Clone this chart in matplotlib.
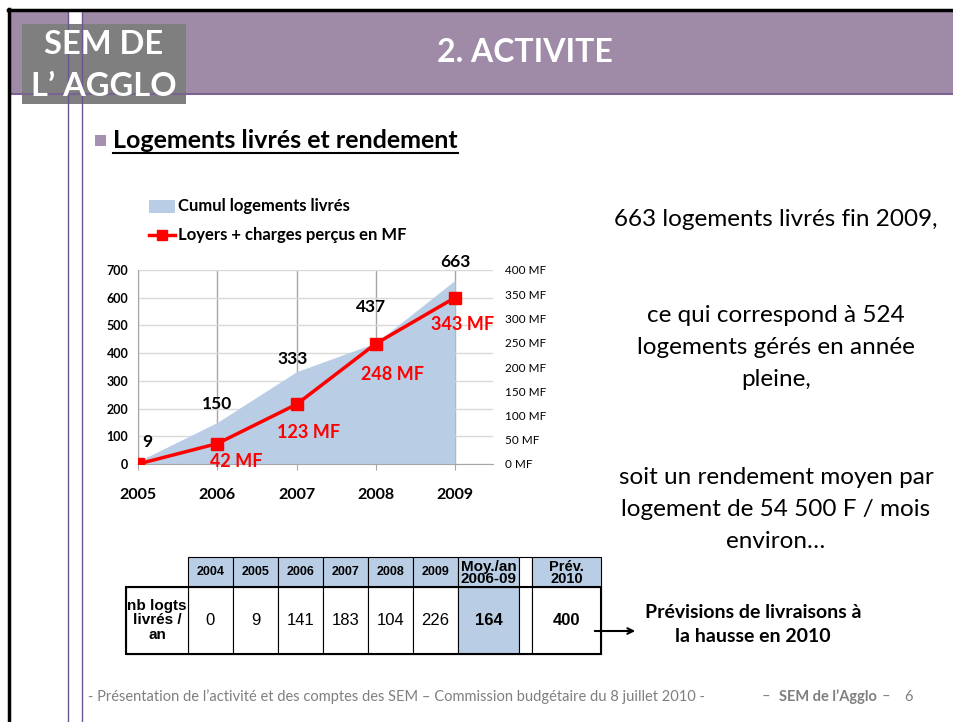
import matplotlib
matplotlib.use("Agg")
import matplotlib.pyplot as plt
from matplotlib.patches import Rectangle
from matplotlib.lines import Line2D

# données du graphique
years = [2005, 2006, 2007, 2008, 2009]
cumul_logements = [9, 150, 333, 437, 663]
loyers_mf = [0, 42, 123, 248, 343]
left_ticks = [0, 100, 200, 300, 400, 500, 600, 700]
right_ticks = [0, 50, 100, 150, 200, 250, 300, 350, 400]

# données du tableau
table_years = ["2004", "2005", "2006", "2007", "2008", "2009"]
table_values = [0, 9, 141, 183, 104, 226]
moy_label = "Moy./an\n2006-09"
moy_value = 164
prev_label = "Prév.\n2010"
prev_value = 400

W, H = 954, 722
FONT = "Lato"
PURPLE = "#9F8AA8"
BLUE = "#B9CDE5"
RED = "#FF0000"

plt.rcParams["font.family"] = [FONT, "DejaVu Sans"]

fig = plt.figure(figsize=(W / 100, H / 100), dpi=100)
bg = fig.add_axes([0, 0, 1, 1], zorder=0)
bg.set_xlim(0, W)
bg.set_ylim(H, 0)
bg.axis("off")

# cadre et bandeau
bg.add_patch(Rectangle((10, 12), W - 10, 82, color=PURPLE, lw=0))
bg.plot([10, W], [93.5, 93.5], color="#7A6390", lw=1.5)
bg.add_patch(Rectangle((68, 12), 14, 82, color="white", lw=0))
for x in (68, 82):
    bg.plot([x, x], [12, H], color="#6A5590", lw=1)
bg.plot([8, W], [10, 10], color="black", lw=2.5)
bg.plot([9, 9], [9, H], color="black", lw=2.5)
bg.add_patch(Rectangle((22, 24), 164, 80, color="#7F7F7F", lw=0))
bg.text(104, 45, "SEM DE", color="white", fontsize=23.5, fontweight="bold",
        ha="center", va="center")
bg.text(104, 86, "L\u2019 AGGLO", color="white", fontsize=23.5, fontweight="bold",
        ha="center", va="center")
bg.text(525, 53, "2. ACTIVITE", color="white", fontsize=23, fontweight="bold",
        ha="center", va="center")

# sous-titre
bg.add_patch(Rectangle((95, 135), 11, 11, color="#A590B0", lw=0))
bg.text(113, 141, "Logements livrés et rendement", fontsize=18,
        fontweight="bold", ha="left", va="center")
bg.plot([113, 458], [153, 153], color="black", lw=1.5)

# légende
bg.add_patch(Rectangle((149, 200), 26, 13, color=BLUE, lw=0))
bg.text(178, 206, "Cumul logements livrés", fontsize=12, fontweight="bold",
        ha="left", va="center")
bg.add_line(Line2D([149, 162, 175], [235, 235, 235], color=RED, lw=2.5,
                   marker="s", markersize=7, markevery=[1]))
bg.text(178, 235, "Loyers + charges perçus en MF", fontsize=12,
        fontweight="bold", ha="left", va="center")

# graphique
x0, x1, ytop, ybot = 138, 493, 270, 464
px_per_year = (455 - 138) / 4
ax = fig.add_axes([x0 / W, 1 - ybot / H, (x1 - x0) / W, (ybot - ytop) / H],
                  zorder=1)
ax.patch.set_alpha(0)
ax.fill_between(years, 0, cumul_logements, color=BLUE, lw=0, zorder=1)
ax.set_xlim(2005, 2005 + (x1 - x0) / px_per_year)
ax.set_ylim(0, 700)
ax.set_yticks(left_ticks)
ax.set_yticklabels([str(v) for v in left_ticks], fontsize=9, fontweight="bold")
ax.set_xticks(years)
ax.set_xticklabels([str(y) for y in years], fontsize=11.5, fontweight="bold")
ax.tick_params(axis="y", length=0, pad=7)
ax.tick_params(axis="x", length=4, color="#A6A6A6", pad=13)
for s in ("top", "right"):
    ax.spines[s].set_visible(False)
ax.spines["left"].set_color("#A6A6A6")
ax.spines["bottom"].set_color("#A6A6A6")
ax.set_axisbelow(True)
ax.grid(axis="y", color="#D9D9D9", lw=1)
ax.grid(axis="x", color="#A6A6A6", lw=1)

ax2 = ax.twinx()
ax2.set_ylim(0, 400)
ax2.set_yticks(right_ticks)
ax2.set_yticklabels([f"{v} MF" for v in right_ticks], fontsize=8.5)
ax2.tick_params(axis="y", length=0, pad=9)
for s in ax2.spines.values():
    s.set_visible(False)
ax2.plot(years, loyers_mf, color=RED, lw=2.5, marker="s", markersize=8,
         zorder=3)

cumul_offsets = [(9, 20), (0, 18), (-4, 13), (-5, 36), (0, 18)]
for x, v, (dx, dy) in zip(years, cumul_logements, cumul_offsets):
    ax.annotate(str(v), (x, v), xytext=(dx, dy), textcoords="offset pixels",
                ha="center", va="center", fontsize=12.5, fontweight="bold")
loyer_offsets = [None, (19, -18), (12, -28), (17, -31), (8, -27)]
for x, v, off in zip(years, loyers_mf, loyer_offsets):
    if off is None:
        continue
    ax2.annotate(f"{v} MF", (x, v), xytext=off, textcoords="offset pixels",
                 ha="center", va="center", fontsize=13, fontweight="bold",
                 color=RED, zorder=4)

# texte de droite
right_lines = [
    (220, "663 logements livrés fin 2009,"),
    (316, "ce qui correspond à 524"),
    (348, "logements gérés en année"),
    (380, "pleine,"),
    (477, "soit un rendement moyen par"),
    (509, "logement de 54 500 F / mois"),
    (541, "environ\u2026"),
]
for y, t in right_lines:
    bg.text(776, y, t, fontsize=17.5, ha="center", va="center")

# tableau
TF = ["Liberation Sans", "DejaVu Sans"]
hy0, hy1, dy1 = 557, 587, 654
col_w = 45
cx = 188
for lab, val in zip(table_years, table_values):
    bg.add_patch(Rectangle((cx, hy0), col_w, hy1 - hy0, facecolor=BLUE,
                           edgecolor="black", lw=0.8))
    bg.add_patch(Rectangle((cx, hy1), col_w, dy1 - hy1, facecolor="white",
                           edgecolor="black", lw=0.8))
    bg.text(cx + col_w / 2, (hy0 + hy1) / 2, lab, family=TF, fontsize=9,
            fontweight="bold", ha="center", va="center")
    bg.text(cx + col_w / 2, (hy1 + dy1) / 2, str(val), family=TF,
            fontsize=12, ha="center", va="center")
    cx += col_w
# moyenne
bg.add_patch(Rectangle((cx, hy0), 61, hy1 - hy0, facecolor=BLUE,
                       edgecolor="black", lw=0.8))
bg.add_patch(Rectangle((cx, hy1), 61, dy1 - hy1, facecolor=BLUE,
                       edgecolor="black", lw=0.8))
bg.text(cx + 30.5, (hy0 + hy1) / 2 + 1, moy_label, family=TF, fontsize=11,
        fontweight="bold", ha="center", va="center", linespacing=0.85)
bg.text(cx + 30.5, (hy1 + dy1) / 2, str(moy_value), family=TF, fontsize=12,
        fontweight="bold", ha="center", va="center")
cx += 61
bg.add_patch(Rectangle((cx, hy0), 13, dy1 - hy0, facecolor="white",
                       edgecolor="black", lw=0.8))
cx += 13
bg.add_patch(Rectangle((cx, hy0), 69, hy1 - hy0, facecolor=BLUE,
                       edgecolor="black", lw=0.8))
bg.add_patch(Rectangle((cx, hy1), 69, dy1 - hy1, facecolor="white",
                       edgecolor="black", lw=0.8))
bg.text(cx + 34.5, (hy0 + hy1) / 2 + 1, prev_label, family=TF, fontsize=10.5,
        fontweight="bold", ha="center", va="center", linespacing=0.9)
bg.text(cx + 34.5, (hy1 + dy1) / 2, str(prev_value), family=TF, fontsize=12,
        fontweight="bold", ha="center", va="center")
# libellé de ligne
bg.add_patch(Rectangle((126, hy1), 62, dy1 - hy1, facecolor="white",
                       edgecolor="black", lw=0.8))
bg.text(157, (hy1 + dy1) / 2, "nb logts\nlivrés /\nan", family=TF,
        fontsize=11, fontweight="bold", ha="center", va="center",
        linespacing=1.05)
bg.add_patch(Rectangle((126, hy1), 475, dy1 - hy1, facecolor="none",
                       edgecolor="black", lw=1.5))

bg.annotate("", xy=(638, 631), xytext=(592, 631),
            arrowprops=dict(arrowstyle="->", color="black", lw=1.5))
bg.text(753, 612, "Prévisions de livraisons à", fontsize=14, fontweight="bold",
        ha="center", va="center")
bg.text(753, 636, "la hausse en 2010", fontsize=14, fontweight="bold",
        ha="center", va="center")

# pied de page
GREY = "#7F7F7F"
bg.text(88, 697, "- Présentation de l\u2019activité et des comptes des SEM \u2013 "
        "Commission budgétaire du 8 juillet 2010 -", fontsize=10.5, color=GREY,
        ha="left", va="center")
bg.text(762, 697, "\u2013", fontsize=10.5, color=GREY, ha="left", va="center")
bg.text(779, 697, "SEM de l\u2019Agglo", fontsize=10.5, color=GREY,
        fontweight="bold", ha="left", va="center")
bg.text(882, 697, "\u2013", fontsize=10.5, color=GREY, ha="left", va="center")
bg.text(904, 697, "6", fontsize=10.5, color=GREY, ha="left", va="center")

fig.savefig("out.png", dpi=100)
